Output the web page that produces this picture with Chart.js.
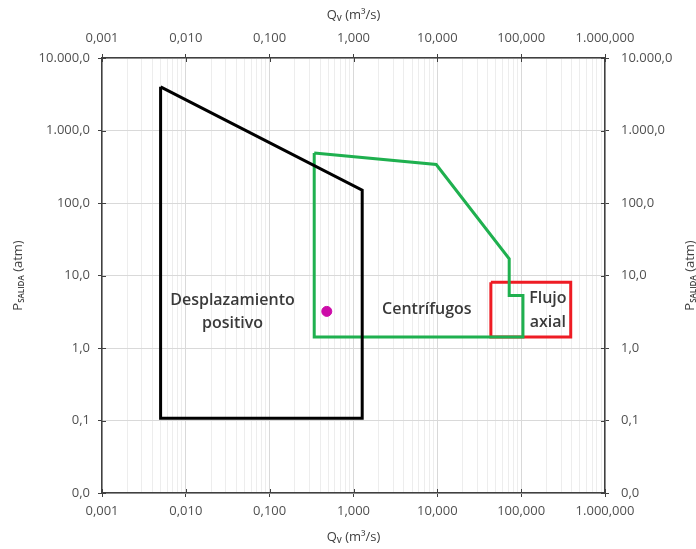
<!DOCTYPE html>
<html>
<head>
<meta charset="utf-8">
<script src="https://cdn.jsdelivr.net/npm/chart.js@4"></script>
<style>
  html, body { margin: 0; padding: 0; background: #fff; }
  #wrap { width: 696px; height: 549px; }
</style>
</head>
<body>
<div id="wrap"><canvas id="Operacion" width="696" height="549"></canvas></div>
<script>
// axis ticks
const xMajor = [0.001, 0.01, 0.1, 1, 10, 100, 1000];
const xLabels = ["0,001", "0,010", "0,100", "1,000", "10,000", "100,000", "1.000,000"];
const yMajor = [0.01, 0.1, 1, 10, 100, 1000, 10000];
const yLabels = ["0,0", "0,1", "1,0", "10,0", "100,0", "1.000,0", "10.000,0"];

// zonas (caudal m3/s, presion atm)
const dispX = [0.005, 1.27, 1.27, 0.005, 0.005];
const dispY = [4000, 150, 0.107, 0.107, 4000];
const centX = [0.34, 9.7, 72, 72, 105, 105, 0.34, 0.34];
const centY = [490, 340, 17, 5.3, 5.3, 1.42, 1.42, 490];
const axialX = [43.5, 390, 390, 43.5, 43.5];
const axialY = [8.1, 8.1, 1.42, 1.42, 8.1];
const pointX = [0.48];
const pointY = [3.2];

// etiquetas de zona
const zoneText = ["Desplazamiento", "positivo", "Centrífugos", "Flujo", "axial"];
const zoneX = [0.036, 0.036, 7.5, 208, 208];
const zoneY = [4.55, 2.19, 3.42, 4.85, 2.26];

function pts(xs, ys) {
  return xs.map((x, i) => ({ x: x, y: ys[i] }));
}

function isMajor(v) {
  const l = Math.log10(v);
  return Math.abs(l - Math.round(l)) < 1e-6;
}

function xTicks(scale) {
  const t = [];
  xMajor.forEach((m, i) => {
    t.push({ value: m });
    if (i < xMajor.length - 1) {
      for (let k = 2; k <= 9; k++) t.push({ value: m * k });
    }
  });
  scale.ticks = t;
}

function yTicks(scale) {
  scale.ticks = yMajor.map(v => ({ value: v }));
}

function labelFor(majors, labels) {
  return v => {
    const i = majors.findIndex(m => Math.abs(m - v) / m < 1e-6);
    return i >= 0 ? labels[i] : "";
  };
}

const tickFont = { family: "Open Sans", size: 13 };
const gridX = {
  color: ctx => isMajor(ctx.tick.value) ? "#d9d9d9" : "#ededed",
  tickColor: ctx => isMajor(ctx.tick.value) ? "#404040" : "rgba(0,0,0,0)",
  tickLength: 4,
  lineWidth: 1
};

const titlesPlugin = {
  id: "titles",
  afterDraw(chart) {
    const c = chart.ctx;
    const a = chart.chartArea;
    c.save();
    c.fillStyle = "#404040";

    function subTitle(x, y, base, sub, rest) {
      c.font = "13px 'Open Sans'";
      const w1 = c.measureText(base).width;
      const w3 = c.measureText(rest).width;
      c.font = "600 8px 'Open Sans'";
      const w2 = c.measureText(sub).width;
      let px = x - (w1 + w2 + w3) / 2;
      c.textBaseline = "middle";
      c.textAlign = "left";
      c.font = "13px 'Open Sans'";
      c.fillText(base, px, y);
      px += w1;
      c.font = "600 8px 'Open Sans'";
      c.fillText(sub, px, y + 4);
      px += w2;
      c.font = "13px 'Open Sans'";
      c.fillText(rest, px, y);
    }
    const cx = (a.left + a.right) / 2;
    subTitle(cx, 15, "Q", "V", " (m³/s)");
    subTitle(cx, 537, "Q", "V", " (m³/s)");
    const cy = (a.top + a.bottom) / 2;
    [18, 690].forEach(x => {
      c.save();
      c.translate(x, cy);
      c.rotate(-Math.PI / 2);
      subTitle(0, 0, "P", "SALIDA", " (atm)");
      c.restore();
    });

    // marcas cruzadas hacia dentro
    c.strokeStyle = "#404040";
    c.lineWidth = 1;
    const sx = chart.scales.x, sy = chart.scales.y;
    xMajor.forEach(v => {
      const p = Math.round(sx.getPixelForValue(v)) + 0.5;
      c.beginPath();
      c.moveTo(p, a.bottom); c.lineTo(p, a.bottom - 4);
      c.moveTo(p, a.top); c.lineTo(p, a.top + 4);
      c.stroke();
    });
    yMajor.forEach(v => {
      const p = Math.round(sy.getPixelForValue(v)) + 0.5;
      c.beginPath();
      c.moveTo(a.left, p); c.lineTo(a.left + 4, p);
      c.moveTo(a.right, p); c.lineTo(a.right - 4, p);
      c.stroke();
    });

    // etiquetas de zona
    c.font = "600 16px 'Open Sans'";
    c.fillStyle = "#3a3a3a";
    c.textAlign = "center";
    c.textBaseline = "middle";
    zoneText.forEach((t, i) => {
      c.fillText(t, sx.getPixelForValue(zoneX[i]), sy.getPixelForValue(zoneY[i]));
    });
    c.restore();
  }
};

const ctx = document.getElementById("Operacion").getContext("2d");
const chart = new Chart(ctx, {
  type: "scatter",
  data: {
    datasets: [
      {
        label: "Desplazamiento positivo",
        data: pts(dispX, dispY),
        showLine: true,
        borderColor: "#000000",
        borderWidth: 3,
        pointRadius: 0,
        borderJoinStyle: "miter"
      },
      {
        label: "Centrífugos",
        data: pts(centX, centY),
        showLine: true,
        borderColor: "#1fb04f",
        borderWidth: 3,
        pointRadius: 0,
        borderJoinStyle: "miter"
      },
      {
        label: "Flujo axial",
        data: pts(axialX, axialY),
        showLine: true,
        borderColor: "#ee1c24",
        borderWidth: 3,
        pointRadius: 0,
        borderJoinStyle: "miter"
      },
      {
        label: "Punto",
        data: pts(pointX, pointY),
        showLine: false,
        backgroundColor: "#cc0ca8",
        borderColor: "#cc0ca8",
        pointRadius: 5
      }
    ]
  },
  options: {
    responsive: false,
    animation: false,
    layout: { padding: 0 },
    plugins: {
      legend: { display: false },
      tooltip: { enabled: false }
    },
    scales: {
      x: {
        type: "logarithmic",
        position: "bottom",
        min: 0.001,
        max: 1000,
        afterBuildTicks: xTicks,
        afterFit: s => { s.height = 56; },
        grid: gridX,
        border: { color: "#404040", width: 1.5 },
        ticks: {
          autoSkip: false,
          maxRotation: 0,
          padding: 6,
          color: "#505050",
          font: tickFont,
          callback: labelFor(xMajor, xLabels)
        }
      },
      x2: {
        type: "logarithmic",
        position: "top",
        min: 0.001,
        max: 1000,
        afterBuildTicks: xTicks,
        afterFit: s => { s.height = 58; },
        grid: { drawOnChartArea: false, tickLength: 4, tickColor: gridX.tickColor },
        border: { color: "#404040", width: 1.5 },
        ticks: {
          autoSkip: false,
          maxRotation: 0,
          padding: 8,
          color: "#505050",
          font: tickFont,
          callback: labelFor(xMajor, xLabels)
        }
      },
      y: {
        type: "logarithmic",
        position: "left",
        min: 0.01,
        max: 10000,
        afterBuildTicks: yTicks,
        afterFit: s => { s.width = 102; },
        grid: { color: "#d9d9d9", tickColor: "#404040", tickLength: 4 },
        border: { color: "#404040", width: 1.5 },
        ticks: {
          autoSkip: false,
          padding: 8,
          color: "#505050",
          font: tickFont,
          callback: labelFor(yMajor, yLabels)
        }
      },
      y2: {
        type: "logarithmic",
        position: "right",
        min: 0.01,
        max: 10000,
        afterBuildTicks: yTicks,
        afterFit: s => { s.width = 91; },
        grid: { drawOnChartArea: false, tickColor: "#404040", tickLength: 4 },
        border: { color: "#404040", width: 1.5 },
        ticks: {
          autoSkip: false,
          padding: 12,
          color: "#505050",
          font: tickFont,
          callback: labelFor(yMajor, yLabels)
        }
      }
    }
  },
  plugins: [titlesPlugin]
});
</script>
</body>
</html>
